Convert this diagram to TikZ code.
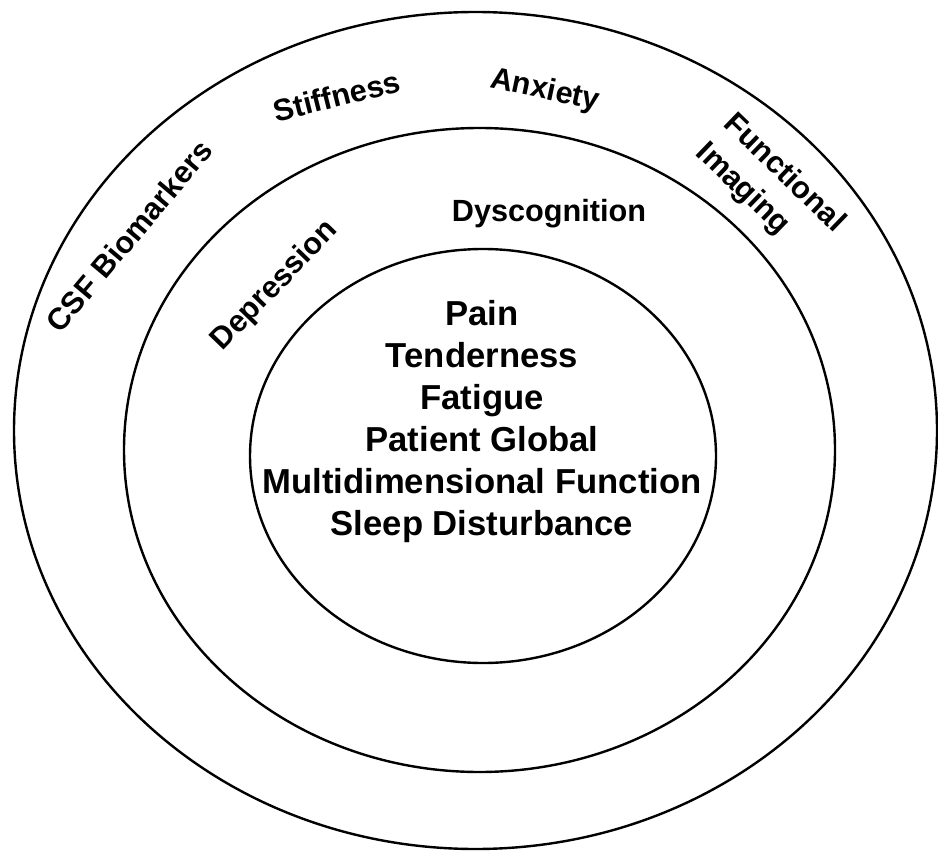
\documentclass[tikz,border=0pt]{standalone}
\usepackage{fontspec}
\setmainfont{Liberation Sans}
\begin{document}
\begin{tikzpicture}[x=0.75pt,y=-0.75pt,
  ring/.style={draw=black,line width=1.8pt},
  core/.style={font=\fontsize{26}{31}\selectfont\bfseries,anchor=base,inner sep=0pt},
  lab/.style={font=\fontsize{23}{30}\selectfont\bfseries,inner sep=0pt}]
\useasboundingbox (0,0) rectangle (938,852);
% rings
\coordinate (outerc) at (475.5,430.5);
\coordinate (midc) at (479.5,450);
\coordinate (innerc) at (483,456);
\draw[ring] (outerc) ellipse [x radius=461.5,y radius=418.5];
\draw[ring] (midc) ellipse [x radius=355.5,y radius=322];
\draw[ring] (innerc) ellipse [x radius=233,y radius=207];
% core domains
\node[core] (pain) at (482,325) {Pain};
\node[core] (tend) at (482,367) {Tenderness};
\node[core] (fat) at (482,409) {Fatigue};
\node[core] (pg) at (482,451) {Patient Global};
\node[core] (mf) at (482,493) {Multidimensional Function};
\node[core] (sd) at (482,535) {Sleep Disturbance};
% middle ring
\node[lab,anchor=base] (dys) at (549,222) {Dyscognition};
\node[lab,rotate=46] (dep) at (275,286) {Depression};
% outer ring
\node[lab,rotate=50] (csf) at (129,236) {CSF Biomarkers};
\node[lab,rotate=14] (stiff) at (337,96) {Stiffness};
\node[lab,rotate=-12] (anx) at (545,91) {Anxiety};
\node[lab,rotate=-44,align=left] (fi) at (770,188) {Functional\\Imaging};
\end{tikzpicture}
\end{document}
